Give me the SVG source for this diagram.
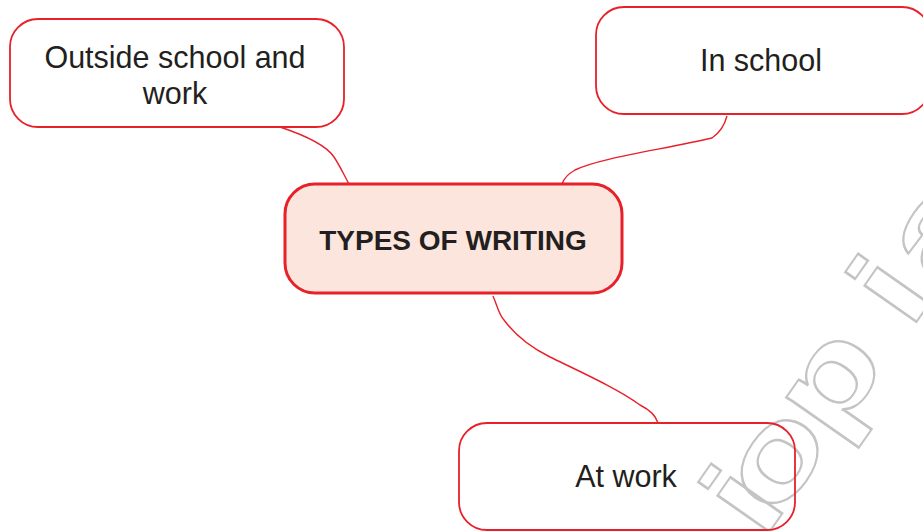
<svg xmlns="http://www.w3.org/2000/svg" width="923" height="531" viewBox="0 0 923 531">
<style>
.box{fill:none;stroke:#e8202a;stroke-width:1.8}
.main{fill:#fce5dc;stroke:#e8202a;stroke-width:3}
.lbl{font-family:"Liberation Sans",Arial,sans-serif;font-size:30.5px;fill:#231f20;text-anchor:middle}
.title{font-family:"Liberation Sans",Arial,sans-serif;font-size:28px;font-weight:bold;fill:#231f20;text-anchor:middle}
.conn path{fill:none;stroke:#e8202a;stroke-width:1.4}
.wm{font-family:"Liberation Sans",Arial,sans-serif;font-size:120px;font-weight:bold;fill:none;stroke:#c4c4c4;stroke-width:2}
</style>
<rect width="923" height="531" fill="#ffffff"/>
<text class="wm" transform="translate(763,541) rotate(-55) scale(1.35,1)" x="0 18.5 89 190 230" y="0">iopia</text>
<g class="conn" id="connectors">
<path d="M280,127 C310,137 328,148 334,157 C340,166 344,175 349,184"/>
<path d="M727,116 C724,127 718,134 712,138 C660,150 600,158 575,170 C568,174 564,178 562,184"/>
<path d="M493,296 C497,305 499,315 504,320 C515,335 530,347 550,357 C585,374 620,390 640,405 C650,410 656,416 658,423"/>
</g>
<g id="node-outside">
<rect class="box" x="10" y="19" width="334" height="108" rx="28"/>
<text class="lbl" x="175" y="68">Outside school and</text>
<text class="lbl" x="175" y="104">work</text>
</g>
<g id="node-inschool">
<rect class="box" x="596" y="7" width="334" height="107" rx="28"/>
<text class="lbl" x="761" y="71">In school</text>
</g>
<g id="node-center">
<rect class="main" x="285" y="184" width="337" height="109" rx="30"/>
<text class="title" x="453" y="250">TYPES OF WRITING</text>
</g>
<g id="node-atwork">
<rect class="box" x="459" y="423" width="336" height="107" rx="28"/>
<text class="lbl" x="626" y="487">At work</text>
</g>
</svg>
